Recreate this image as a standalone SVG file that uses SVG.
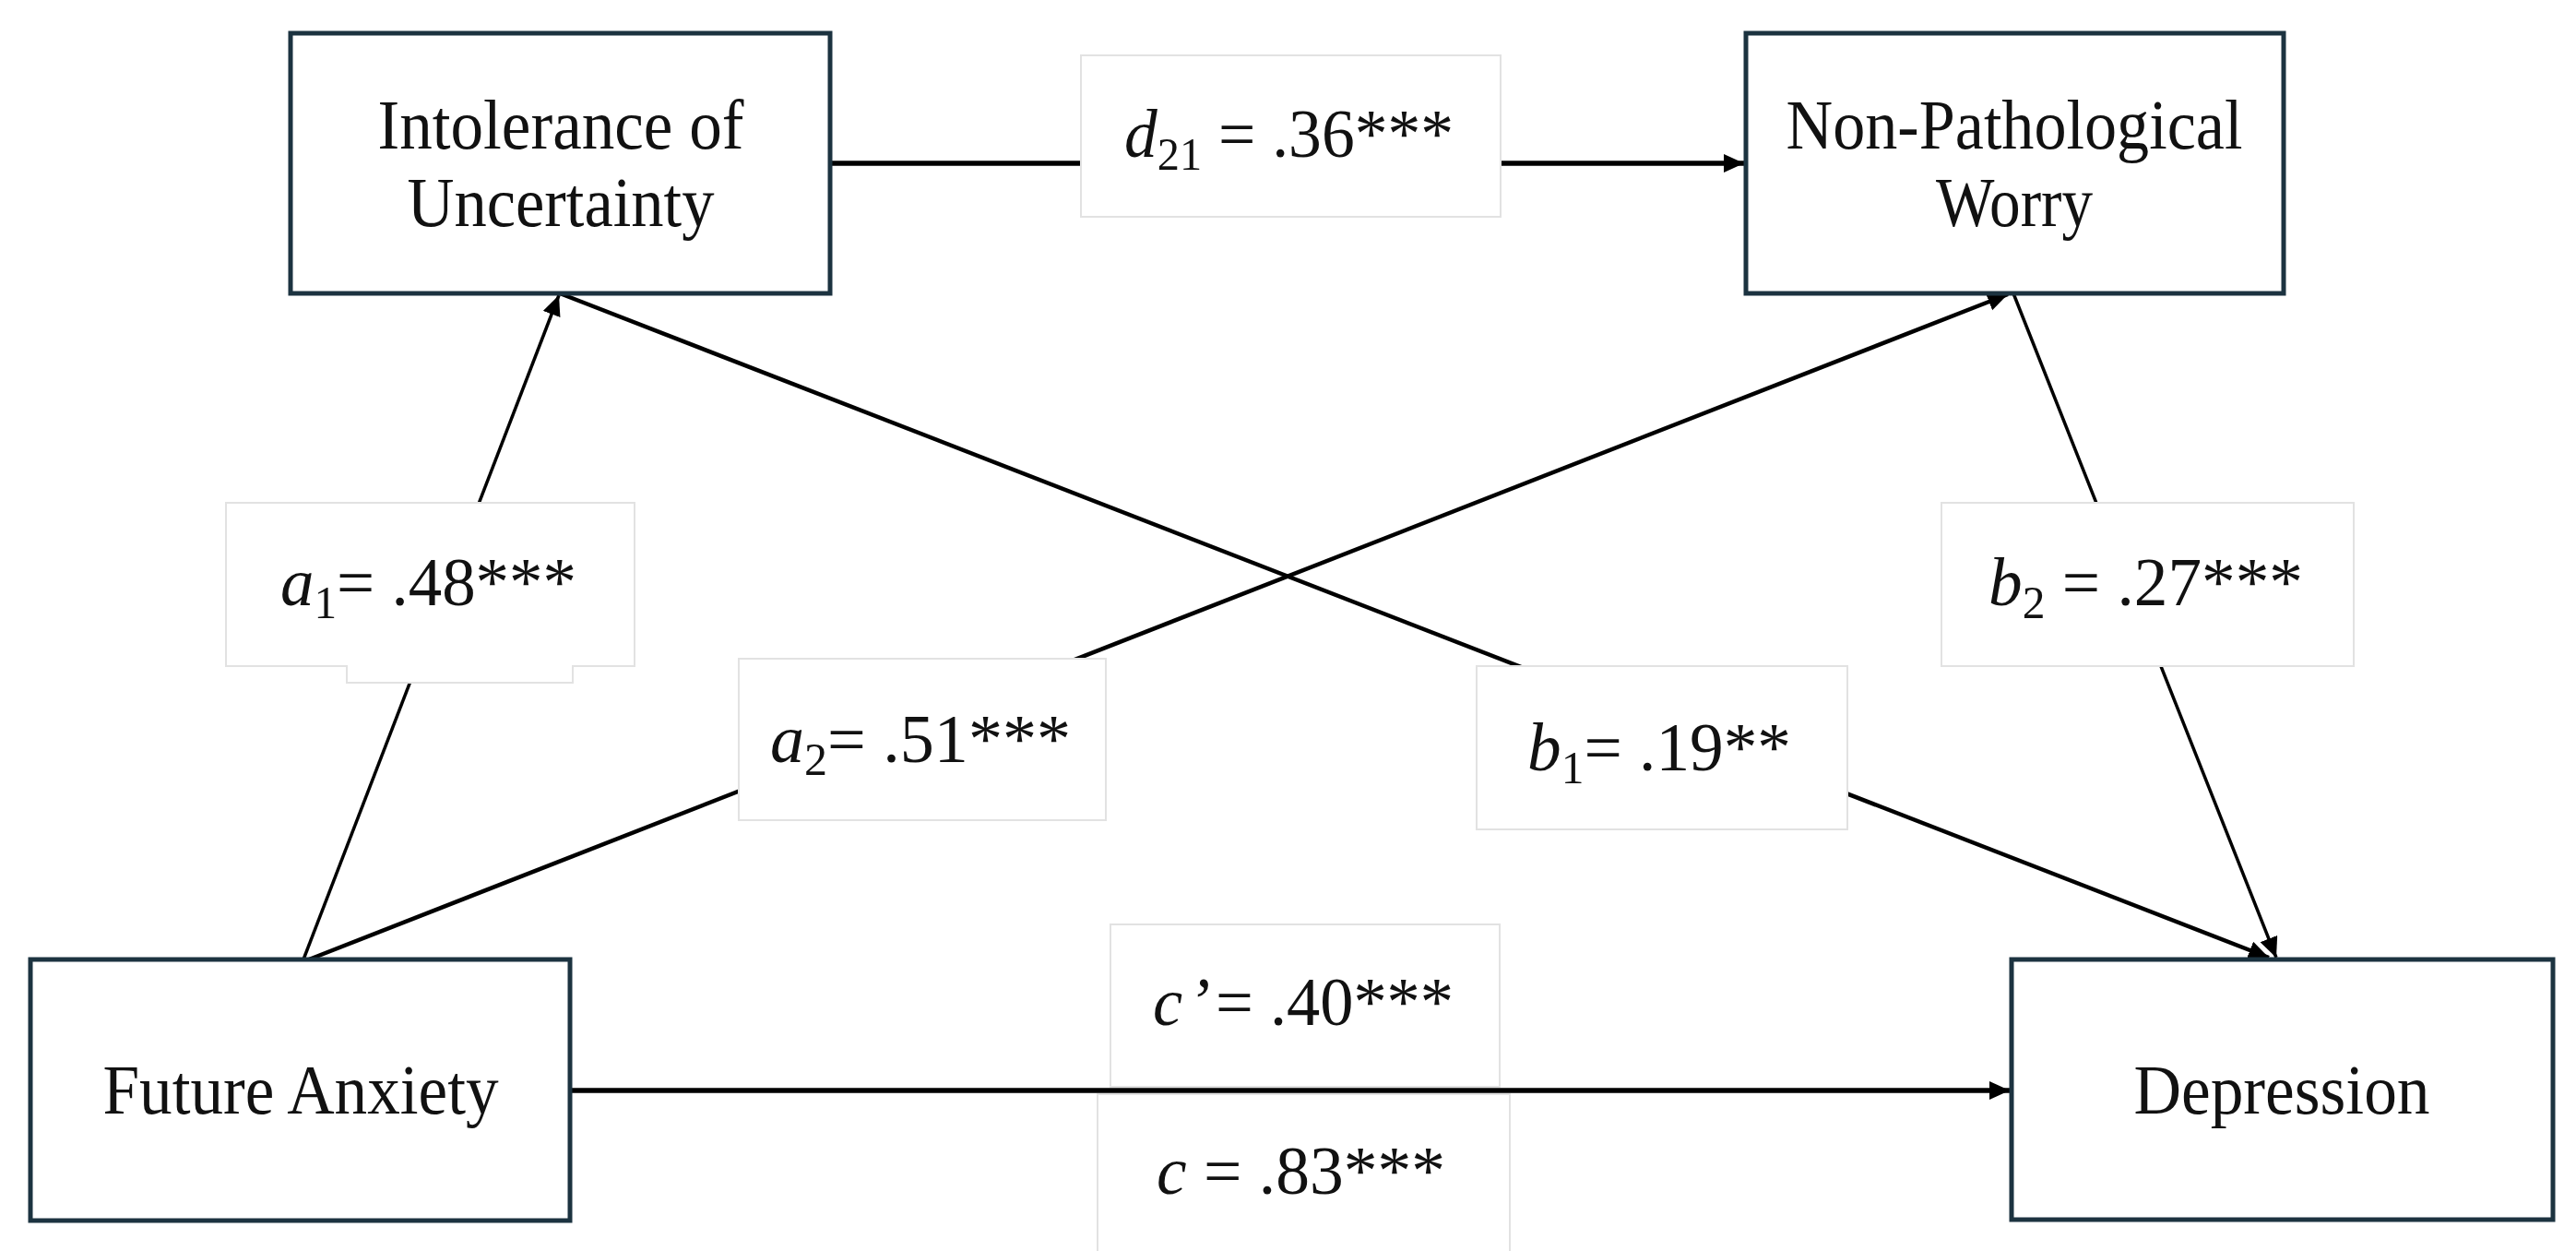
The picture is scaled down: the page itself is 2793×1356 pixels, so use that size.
<svg xmlns="http://www.w3.org/2000/svg" width="2793" height="1356" viewBox="0 0 2793 1356">
<defs>
<style>
.node{fill:#ffffff;stroke:#1c3340;stroke-width:5}
.nt{font-family:"Liberation Serif","Times New Roman",serif;font-size:77px;fill:#111111;text-anchor:middle}
.lb{fill:#ffffff;stroke:#e2e2e2;stroke-width:2}
.lt{font-family:"Liberation Serif","Times New Roman",serif;font-size:74px;fill:#111111}
.it{font-style:italic}
.ln{fill:none;stroke:#000000;stroke-width:4.5}
.thin{stroke-width:3.5}
.thick{stroke-width:5.5}
</style>
<marker id="ah" markerUnits="userSpaceOnUse" markerWidth="24" markerHeight="22" refX="22" refY="10" orient="auto">
<path d="M0,0 L22,10 L0,20 Z" fill="#000000"/>
</marker>
</defs>
<rect width="2793" height="1356" fill="#ffffff"/>

<g id="connectors">
<path class="ln thick" d="M900,177 H1891" marker-end="url(#ah)"/>
<path class="ln thin" d="M329,1040 L606,320" marker-end="url(#ah)"/>
<path class="ln" d="M335,1040 L2177,319" marker-end="url(#ah)"/>
<path class="ln" d="M607,318 L2460,1038" marker-end="url(#ah)"/>
<path class="ln thin" d="M2183,318 L2468,1038" marker-end="url(#ah)"/>
</g>

<g id="labels">
<g id="label-d21">
<rect class="lb" x="1172" y="60" width="455" height="175"/>
<text class="lt" x="1219" y="170" textLength="357" lengthAdjust="spacingAndGlyphs"><tspan class="it">d</tspan><tspan font-size="50" dy="14">21</tspan><tspan dy="-14"> = .36***</tspan></text>
</g>
<g id="label-a1">
<path class="lb" d="M245,545 H688 V722 H621 V740 H376 V722 H245 Z"/>
<text class="lt" x="304" y="656" textLength="321" lengthAdjust="spacingAndGlyphs"><tspan class="it">a</tspan><tspan font-size="50" dy="14">1</tspan><tspan dy="-14">= .48***</tspan></text>
</g>
<g id="label-a2">
<rect class="lb" x="801" y="714" width="398" height="175"/>
<text class="lt" x="835" y="826" textLength="326" lengthAdjust="spacingAndGlyphs"><tspan class="it">a</tspan><tspan font-size="50" dy="14">2</tspan><tspan dy="-14">= .51***</tspan></text>
</g>
<g id="label-b1">
<rect class="lb" x="1601" y="722" width="402" height="177"/>
<text class="lt" x="1656" y="835" textLength="286" lengthAdjust="spacingAndGlyphs"><tspan class="it">b</tspan><tspan font-size="50" dy="14">1</tspan><tspan dy="-14">= .19**</tspan></text>
</g>
<g id="label-b2">
<rect class="lb" x="2105" y="545" width="447" height="177"/>
<text class="lt" x="2156" y="656" textLength="341" lengthAdjust="spacingAndGlyphs"><tspan class="it">b</tspan><tspan font-size="50" dy="14">2</tspan><tspan dy="-14"> = .27***</tspan></text>
</g>
<g id="label-cprime">
<rect class="lb" x="1204" y="1002" width="422" height="176"/>
<text class="lt" x="1250" y="1111" textLength="326" lengthAdjust="spacingAndGlyphs"><tspan class="it">c</tspan><tspan class="it" dx="6">’</tspan><tspan dx="6">= .40***</tspan></text>
</g>
<g id="label-c">
<rect class="lb" x="1190" y="1186" width="447" height="180"/>
<text class="lt" x="1254" y="1294" textLength="313" lengthAdjust="spacingAndGlyphs"><tspan class="it">c</tspan><tspan> = .83***</tspan></text>
</g>
</g>

<path class="ln thick" d="M618,1182 H2179" marker-end="url(#ah)"/>

<g id="node-iu">
<rect class="node" x="315" y="36" width="585" height="282"/>
<text class="nt" x="608" y="161" textLength="397" lengthAdjust="spacingAndGlyphs">Intolerance of</text>
<text class="nt" x="608" y="245" textLength="333" lengthAdjust="spacingAndGlyphs">Uncertainty</text>
</g>
<g id="node-npw">
<rect class="node" x="1893" y="36" width="583" height="282"/>
<text class="nt" x="2184" y="161" textLength="495" lengthAdjust="spacingAndGlyphs">Non-Pathological</text>
<text class="nt" x="2184" y="245" textLength="170" lengthAdjust="spacingAndGlyphs">Worry</text>
</g>
<g id="node-fa">
<rect class="node" x="33" y="1040" width="585" height="283"/>
<text class="nt" x="326" y="1207" textLength="429" lengthAdjust="spacingAndGlyphs">Future Anxiety</text>
</g>
<g id="node-dep">
<rect class="node" x="2181" y="1040" width="587" height="282"/>
<text class="nt" x="2474" y="1207" textLength="321" lengthAdjust="spacingAndGlyphs">Depression</text>
</g>
</svg>
